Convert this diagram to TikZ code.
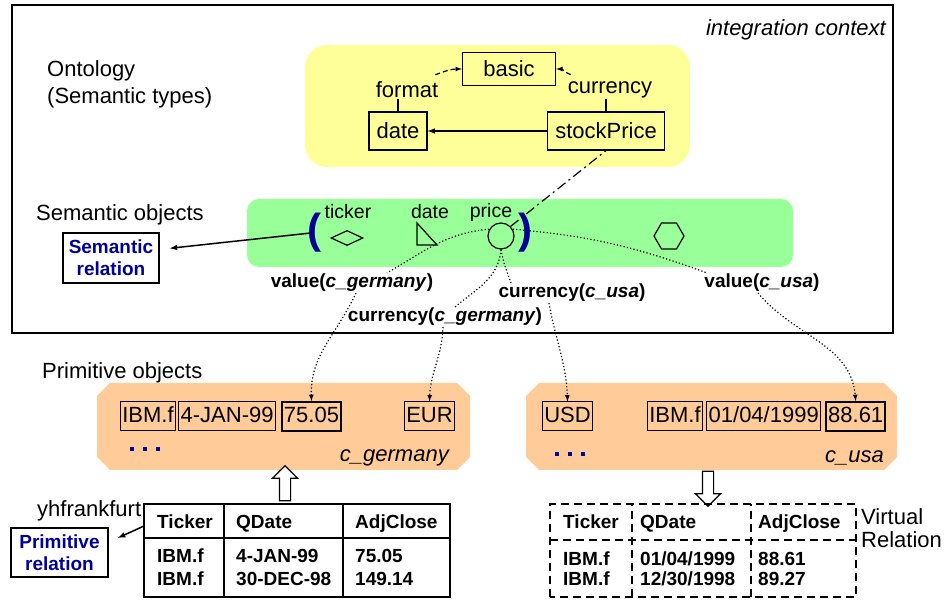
\documentclass[tikz,border=0pt]{standalone}
\usepackage{fontspec}
\setmainfont{Liberation Sans}
\usetikzlibrary{shapes,arrows,positioning}

\definecolor{ontoyellow}{HTML}{FFFF99}
\definecolor{semgreen}{HTML}{99FF99}
\definecolor{primorange}{HTML}{FFCC99}
\definecolor{relblue}{HTML}{000099}

\newcommand{\bigfont}{\fontsize{22}{27}\selectfont}
\newcommand{\smallfont}{\fontsize{19}{22}\selectfont}

\tikzset{
	txt/.style={font=\bigfont,inner sep=1pt},
	lbl/.style={font=\smallfont\bfseries,inner sep=1pt},
	objlbl/.style={font=\fontsize{19.5}{22}\selectfont,inner sep=1pt},
	typebox/.style={draw,line width=1.2pt,font=\bigfont,minimum height=38pt,inner xsep=3pt},
	valbox/.style={draw,line width=1pt,font=\bigfont,inner xsep=2pt,inner ysep=4.5pt,text height=16pt,text depth=4pt},
	relbox/.style={draw,line width=1.8pt,fill=white,font=\smallfont\bfseries,text=relblue,align=center,inner sep=3pt},
	cell/.style={font=\smallfont\bfseries,anchor=west,inner sep=0pt,text height=14pt,text depth=4pt},
	paren/.style={font=\fontsize{42}{42}\selectfont\bfseries,text=relblue,inner sep=0pt},
	semobj/.style={draw,line width=1.2pt,inner sep=0pt},
	dotline/.style={line width=1.2pt,dash pattern=on 1.2pt off 2.2pt},
	hollow/.style={single arrow,draw,line width=1.2pt,fill=white,minimum height=35pt,minimum width=24pt,inner sep=5pt,single arrow head extend=7pt},
}

\begin{document}
\begin{tikzpicture}[x=1pt,y=1pt,>=latex]
	\useasboundingbox (0,0) rectangle (950,605);

	% integration context
	\fill[ontoyellow,rounded corners=22pt] (305,438) rectangle (690,560);
	\fill[semgreen,rounded corners=12pt] (247,338) rectangle (793,406);
	\draw[line width=1.5pt] (12,272) rectangle (893,600);
	\node[txt,anchor=east] (ctx) at (887,575) {\itshape integration context};
	\node[txt,anchor=west,align=left] (onto) at (46,521) {Ontology\\(Semantic types)};

	% ontology
	\node[typebox,minimum width=93pt,minimum height=33pt] (basic) at (509,536) {basic};
	\node[typebox,minimum width=58pt] (date) at (398,474) {date};
	\node[typebox,minimum width=117pt] (stock) at (606,474) {stockPrice};
	\node[txt] (fmt) at (407,515) {format};
	\node[txt] (cur) at (610,515) {currency};
	\draw[line width=1.2pt] (date.north) -- (date.north |- fmt.south);
	\draw[line width=1.2pt] (stock.north) -- (stock.north |- cur.south);
	\draw[line width=1.2pt,dash pattern=on 5pt off 3pt,->] ([shift={(-4pt,6pt)}]fmt.north east) to[out=20,in=180] (basic.west);
	\draw[line width=1.2pt,dash pattern=on 5pt off 3pt,->] ([shift={(4pt,6pt)}]cur.north west) to[out=160,in=0] (basic.east);
	\draw[line width=1.5pt,->] (stock.west) -- (date.east);

	% semantic objects
	\node[txt,anchor=west] (semtxt) at (35,390) {Semantic objects};
	\node[relbox,minimum width=96pt,minimum height=50pt] (semrel) at (111,347) {Semantic\\relation};
	\node[paren] (lpar) at (314,372) {(};
	\node[paren] (rpar) at (525,372) {)};
	\node[objlbl] (tlbl) at (348,393) {ticker};
	\node[objlbl] (dlbl) at (430,393) {date};
	\node[objlbl] (plbl) at (491,393) {price};
	\node[semobj,diamond,minimum width=32pt,minimum height=15pt] (tobj) at (347,367) {};
	\draw[line width=1.2pt] (417,382) -- (417,360) -- (437,360) -- cycle;
	\node[semobj,circle,minimum size=26pt] (pobj) at (501,369) {};
	\node[semobj,regular polygon,regular polygon sides=6,minimum size=30pt] (hobj) at (669,369) {};
	\draw[line width=1.5pt,->,shorten >=10pt] ([xshift=4pt]lpar.west) -- (semrel.10);
	\draw[line width=1.2pt,dash pattern=on 10pt off 4pt on 2pt off 4pt] (pobj.45) -- (stock.south);

	\node[lbl] (valger) at (352,322) {value(\textit{c\_germany})};
	\node[lbl] (valusa) at (762,322) {value(\textit{c\_usa})};
	\node[lbl] (curger) at (445,288) {currency(\textit{c\_germany})};
	\node[lbl] (curusa) at (572,312) {currency(\textit{c\_usa})};

	% primitive objects
	\node[txt,anchor=west] (primtxt) at (41,232) {Primitive objects};
	\foreach \l/\r in {97/470,526/897} \fill[primorange] (\l+13,222) -- (\r-13,222) -- (\r,209) -- (\r,148) -- (\r-13,135) -- (\l+13,135) -- (\l,148) -- (\l,209) -- cycle;

	\node[valbox] (gtick) at (148,188.5) {IBM.f};
	\node[valbox,right=2pt of gtick] (gdate) {4-JAN-99};
	\node[valbox,right=5pt of gdate,line width=1.8pt] (v7505) {75.05};
	\node[valbox] (veur) at (429.5,188.5) {EUR};
	\node[valbox] (vusd) at (567.5,188.5) {USD};
	\node[valbox] (utick) at (675,188.5) {IBM.f};
	\node[valbox,right=3pt of utick] (udate) {01/04/1999};
	\node[valbox,right=4pt of udate,line width=1.8pt] (v8861) {88.61};

	\foreach \x in {132,145,158} \fill[relblue] (\x-2,154) rectangle +(4,4);
	\foreach \x in {557,570,583} \fill[relblue] (\x-2,149) rectangle +(4,4);
	\node[txt,anchor=east] (gctx) at (450,147) {\itshape c\_germany};
	\node[txt,anchor=east] (uctx) at (885,147) {\itshape c\_usa};

	% mappings from the price object
	\draw[dotline] (pobj.150) to[out=185,in=30] ([xshift=35pt]valger.north);
	\draw[dotline,->] ([xshift=4pt]valger.south) to[out=-115,in=92] (v7505.north);
	\draw[dotline] (pobj.30) to[out=-5,in=160] ([xshift=-55pt]valusa.north);
	\draw[dotline,->] ([xshift=-4pt]valusa.south) to[out=-50,in=95] (v8861.north);
	\draw[dotline] (pobj.south) to[out=-95,in=40] ([xshift=10pt]curger.north);
	\draw[dotline,->] ([xshift=-2pt]curger.south) to[out=-92,in=88] (veur.north);
	\draw[dotline] (pobj.south) to[out=-80,in=110] ([xshift=-61pt]curusa.north);
	\draw[dotline,->] ([xshift=-23pt]curusa.south) to[out=-80,in=92] (vusd.north);

	% relations
	\node[hollow,shape border rotate=90] (gup) at (285,119) {};
	\node[hollow,shape border rotate=270] (udown) at (708,119) {};

	\draw[line width=1.5pt] (144,8) rectangle (450,101) (144,67) -- (450,67) (224,8) -- (224,101) (343,8) -- (343,101);
	\foreach \y/\a/\b/\c [count=\r] in {82/Ticker/QDate/AdjClose,48/IBM.f/4-JAN-99/75.05,25/IBM.f/30-DEC-98/149.14} {
		\node[cell] (ga\r) at (157,\y) {\a};
		\node[cell] (gb\r) at (236,\y) {\b};
		\node[cell] (gc\r) at (355,\y) {\c};
	}
	\draw[line width=1.5pt,dash pattern=on 8pt off 5pt] (550,8) rectangle (856,101) (550,65) -- (856,65) (632,8) -- (632,101) (751,8) -- (751,101);
	\foreach \y/\a/\b/\c [count=\r] in {82/Ticker/QDate/AdjClose,45/IBM.f/{01/04/1999}/88.61,25/IBM.f/{12/30/1998}/89.27} {
		\node[cell] (ua\r) at (563,\y) {\a};
		\node[cell] (ub\r) at (640,\y) {\b};
		\node[cell] (uc\r) at (758,\y) {\c};
	}

	\node[txt,anchor=west] (yhf) at (36,94) {yhfrankfurt};
	\node[relbox,minimum width=97pt,minimum height=49pt] (primrel) at (59.5,52.5) {Primitive\\relation};
	\coordinate (gtabw) at (144,79);
	\draw[line width=1.5pt,->,shorten >=10pt] (gtabw) -- (primrel.12);
	\node[txt,anchor=west,align=left,font=\fontsize{22}{23}\selectfont] (virt) at (860,76.5) {Virtual\\Relation};
\end{tikzpicture}
\end{document}
